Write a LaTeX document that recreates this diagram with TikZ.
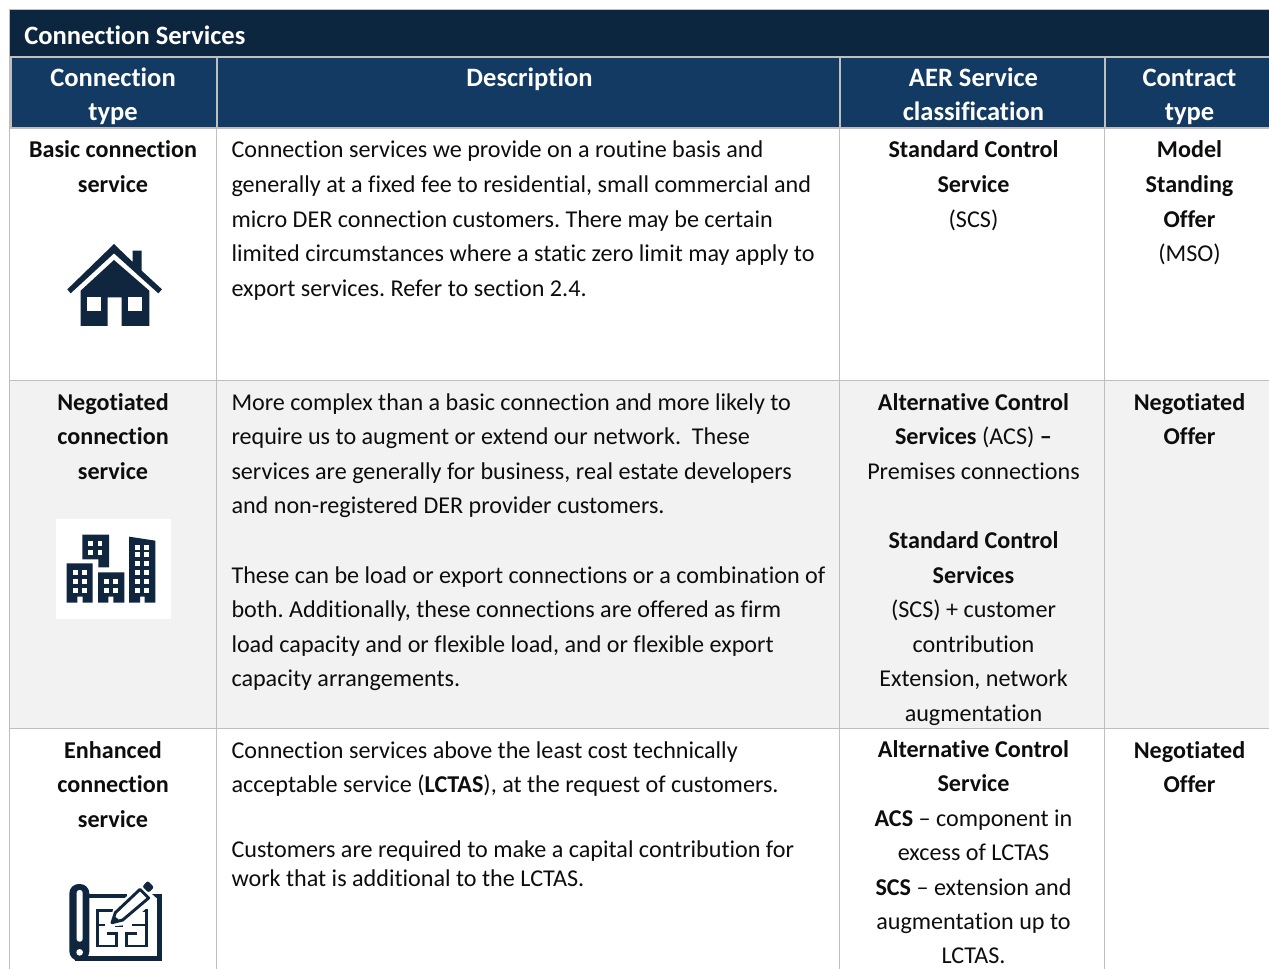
\documentclass[tikz,border=0pt]{standalone}
\usepackage{fontspec}
\setmainfont[Ligatures=NoCommon]{Carlito}
\frenchspacing
\definecolor{titlebg}{HTML}{0D2640}
\definecolor{headbg}{HTML}{123A63}
\definecolor{rule}{HTML}{BFBFBF}
\definecolor{rowgrey}{HTML}{F2F2F2}
\definecolor{icon}{HTML}{10263F}
\definecolor{ink}{HTML}{0D0D0D}
\newcommand{\fl}{\rule{0pt}{15pt}}
\newcommand{\bodysize}{\fontsize{18.1pt}{25.95pt}\selectfont}
\newcommand{\tightsize}{\fontsize{18.1pt}{21.75pt}\selectfont}
\newcommand{\lastsize}{\fontsize{18.1pt}{25.8pt}\selectfont}
\newcommand{\headsize}{\fontsize{19.9pt}{25.5pt}\selectfont\bfseries}
\tikzset{
  x=0.75pt,y=-0.75pt,
  cell/.style={inner sep=0pt,outer sep=0pt,text=ink,font=\bodysize},
  lcell/.style={cell,anchor=north west,align=left},
  ccell/.style={cell,anchor=north,align=center},
  headcell/.style={inner sep=0pt,outer sep=0pt,text=white,font=\headsize,anchor=north,align=center},
  gridline/.style={draw=rule,line width=0.75pt},
  headline/.style={draw=rule,line width=1.5pt},
}
\newcommand{\win}[2]{\fill[white] (#1-7,#2-7) rectangle (#1+7,#2+7);}
\begin{document}
\begin{tikzpicture}
\useasboundingbox (0,0) rectangle (1269,969);
\clip (0,0) rectangle (1269,969);
% backgrounds
\fill[rowgrey] (10,380) rectangle (1269,728);
\fill[titlebg] (9.5,9.5) rectangle (1269,56.5);
\fill[headbg] (10,57) rectangle (1269,128);
% rules
\draw[gridline] (9.5,9.5) -- (1269,9.5);
\draw[gridline] (9.5,9.5) -- (9.5,969);
\draw[gridline] (216.5,128) -- (216.5,969);
\draw[gridline] (839.5,128) -- (839.5,969);
\draw[gridline] (1104.5,128) -- (1104.5,969);
\draw[gridline] (10,380.5) -- (1269,380.5);
\draw[gridline] (10,728.5) -- (1269,728.5);
\draw[headline] (10,57) -- (1269,57);
\draw[headline] (10,128) -- (1269,128);
\draw[headline] (10.5,57) -- (10.5,128);
\draw[headline] (216.5,57) -- (216.5,128);
\draw[headline] (840,57) -- (840,128);
\draw[headline] (1105,57) -- (1105,128);
% title
\node[inner sep=0pt,text=white,font=\headsize,anchor=base west] (title) at (24,45) {Connection Services};
% header
\node[headcell] (h1) at (113,67) {\fl Connection\\type};
\node[headcell] (h2) at (529.5,67) {\fl Description};
\node[headcell] (h3) at (973.5,67) {\fl AER Service\\classification};
\node[headcell] (h4) at (1189.5,67) {\fl Contract\\type};
% row 1
\node[ccell] (r1a) at (113,138) {\fl\bfseries Basic connection\\\bfseries service};
\node[lcell] (r1b) at (231.5,138) {\fl Connection services we provide on a routine basis and\\generally at a fixed fee to residential, small commercial and\\micro DER connection customers. There may be certain\\limited circumstances where a static zero limit may apply to\\export services. Refer to section 2.4.};
\node[ccell] (r1c) at (973.5,138) {\fl\bfseries Standard Control\\\bfseries Service\\(SCS)};
\node[ccell] (r1d) at (1189.5,138) {\fl\bfseries Model\\\bfseries Standing\\\bfseries Offer\\(MSO)};
% row 2
\node[ccell] (r2a) at (113,390) {\fl\bfseries Negotiated\\\bfseries connection\\\bfseries service};
\node[lcell] (r2b) at (231.5,390) {\fl More complex than a basic connection and more likely to\\require us to augment or extend our network.\ \ These\\services are generally for business, real estate developers\\and non-registered DER provider customers.\\[25.95pt]These can be load or export connections or a combination of\\both. Additionally, these connections are offered as firm\\load capacity and or flexible load, and or flexible export\\capacity arrangements.};
\node[ccell] (r2c) at (973.5,390) {\fl\bfseries Alternative Control\\\textbf{Services} (ACS) \textbf{–}\\Premises connections\\[25.95pt]\bfseries Standard Control\\\bfseries Services\\(SCS) + customer\\contribution\\Extension, network\\augmentation};
\node[ccell] (r2d) at (1189.5,390) {\fl\bfseries Negotiated\\\bfseries Offer};
% row 3
\node[ccell] (r3a) at (113,738) {\fl\bfseries Enhanced\\\bfseries connection\\\bfseries service};
\node[lcell] (r3b) at (231.5,738) {\fl Connection services above the least cost technically\\acceptable service (\textbf{LCTAS}), at the request of customers.};
\node[lcell,font=\tightsize] (r3e) at (231.5,837) {\fl Customers are required to make a capital contribution for\\work that is additional to the LCTAS.};
\node[ccell,font=\lastsize] (r3c) at (973.5,737.5) {\fl\bfseries Alternative Control\\\bfseries Service\\\textbf{ACS} – component in\\excess of LCTAS\\\textbf{SCS} – extension and\\augmentation up to\\LCTAS.};
\node[ccell] (r3d) at (1189.5,738) {\fl\bfseries Negotiated\\\bfseries Offer};
% house icon
\begin{scope}[shift={(40,230)},x=0.25pt,y=-0.25pt]
\fill[icon] (82,178) -- (222,42) -- (278,96) -- (278,62) -- (305,62) -- (305,122) -- (366,178) -- (355,190) -- (222,70) -- (92,190) -- cycle;
\fill[icon] (222,90) -- (328,182) -- (328,288) -- (245,288) -- (245,202) -- (203,202) -- (203,288) -- (122,288) -- (122,182) -- cycle;
\fill[white] (142,202) rectangle (182,242);
\fill[white] (265,202) rectangle (305,242);
\end{scope}
% buildings icon
\fill[white] (56,519) rectangle (171,619);
\begin{scope}[shift={(40,510)},x=0.25pt,y=-0.25pt]
\fill[icon] (127,74) -- (207,74) -- (207,172) -- (175,172) -- (175,148) -- (127,148) -- cycle;
\win{152}{100}\win{180}{100}\win{152}{127}\win{180}{127}
\fill[icon] (80,160) -- (158,160) -- (158,278) -- (128,278) -- (128,260) -- (112,260) -- (112,278) -- (80,278) -- cycle;
\win{106}{187}\win{133}{187}\win{106}{214}\win{133}{214}\win{106}{241}\win{133}{241}
\fill[icon] (174,187) -- (253,187) -- (253,278) -- (220,278) -- (220,260) -- (205,260) -- (205,278) -- (174,278) -- cycle;
\win{200}{214}\win{227}{214}\win{200}{241}\win{227}{241}
\fill[icon] (267,80) -- (346,92) -- (346,278) -- (314,278) -- (314,260) -- (300,260) -- (300,278) -- (267,278) -- cycle;
\win{293}{112}\win{320}{112}\win{293}{134}\win{320}{134}\win{293}{160}\win{320}{160}\win{293}{187}\win{320}{187}\win{293}{214}\win{320}{214}\win{293}{241}\win{320}{241}
\end{scope}
% plan icon
\begin{scope}[shift={(50,870)},x=0.25pt,y=-0.25pt]
% scroll
\draw[icon,line width=3.3pt] (118,78) -- (232,78);
\draw[icon,line width=3.3pt] (300,78) -- (328,78) -- (328,266) -- (75,266);
\fill[icon,rounded corners=7pt] (58,42) rectangle (118,272);
\fill[white,rounded corners=2pt] (80,60) rectangle (98,215);
\fill[white] (89,247) circle[radius=10];
% plan lines
\draw[icon,line width=1.8pt] (190,122) -- (142,122) -- (142,228) -- (200,228) -- (200,190) -- (170,190);
\draw[icon,line width=1.8pt] (142,165) -- (165,165);
\draw[icon,line width=1.8pt] (245,122) -- (290,122) -- (290,228) -- (230,228) -- (230,190) -- (262,190);
\draw[icon,line width=1.8pt] (290,165) -- (245,165);
\draw[icon,line width=1.8pt] (215,150) -- (215,168) -- (195,168);
% pencil
\fill[white] (170,170) -- (190,118) -- (270,40) -- (320,85) -- (235,165) -- cycle;
\draw[icon,line width=2.2pt,line join=round,fill=white] (186,158) -- (196,128) -- (270,58) -- (296,84) -- (218,150) -- cycle;
\fill[icon] (186,158) -- (192,138) -- (206,148) -- cycle;
\fill[icon,rounded corners=1.5pt] (277,50) -- (293,32) -- (312,52) -- (296,68) -- cycle;
\end{scope}
\end{tikzpicture}
\end{document}
